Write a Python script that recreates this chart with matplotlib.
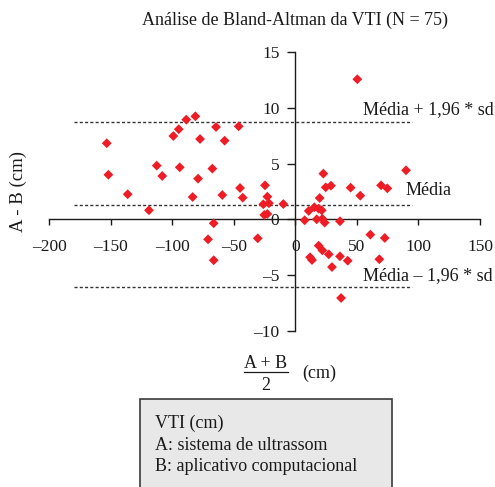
import matplotlib.pyplot as plt
from matplotlib.patches import Rectangle
from matplotlib.lines import Line2D
from matplotlib.ticker import FuncFormatter

plt.rcParams['font.family'] = ['Liberation Serif', 'DejaVu Serif']

# media (A+B)/2 e diferenca A-B, em cm
media_ab = [-153.3, -152.0, -136.3, -119.0, -112.7, -108.2, -99.2, -94.8, -94.0, -88.7,
            -83.5, -81.3, -79.1, -77.5, -67.5, -66.4, -71.0, -66.4, -64.5, -59.4,
            -57.5, -46.1, -45.0, -42.8, -30.6, -24.7, -22.8, -26.1, -21.5, -25.3,
            -22.8, -9.8,
            7.5, 10.8, 15.4, 17.3, 18.9, 19.7, 21.4, 21.9, 22.7, 23.8,
            24.6, 28.9, 36.2, 44.9, 52.7, 69.6, 74.7, 89.9, 60.9, 72.6,
            11.9, 13.5, 18.9, 21.9, 27.1, 29.7, 36.2, 42.5, 37.1, 68.2,
            67.0, 50.3]
dif_ab = [6.83, 4.00, 2.25, 0.81, 4.82, 3.89, 7.48, 8.09, 4.67, 8.95,
          2.00, 9.25, 3.65, 7.21, 4.55, -0.36, -1.80, -3.68, 8.29, 2.18,
          7.06, 8.35, 2.81, 1.94, -1.71, 3.05, 2.03, 1.35, 1.44, 0.39,
          0.48, 1.37,
          -0.09, 0.75, 1.08, 0.00, 0.95, 1.91, 0.81, 0.05, 4.10, -0.30,
          2.87, 3.02, -0.18, 2.84, 2.12, 3.05, 2.78, 4.40, -1.38, -1.68,
          -3.41, -3.66, -2.37, -2.79, -3.15, -4.29, -3.33, -3.72, -7.07, -3.59,
          -4.80, 12.58]

media_dif = 1.3
lim_sup = 8.7
lim_inf = -6.1
faixa_x = [-180, 95]

xticks = [-200, -150, -100, -50, 0, 50, 100, 150]
yticks = [-10, -5, 0, 5, 10, 15]

W, H = 495, 487
fig = plt.figure(figsize=(W / 100, H / 100), dpi=100)

def fx(px):
    return px / W

def fy(py):
    return 1 - py / H

ax = fig.add_axes([fx(49.3), fy(330.6), fx(480) - fx(49.3), fy(52.3) - fy(330.6)])
ax.set_xlim(-200, 150)
ax.set_ylim(-10, 15)

for s in ['top', 'right']:
    ax.spines[s].set_visible(False)
ax.spines['left'].set_position(('data', 0))
ax.spines['bottom'].set_position(('data', 0))
for s in ['left', 'bottom']:
    ax.spines[s].set_linewidth(1.0)
    ax.spines[s].set_color('#1a1a1a')

# sinal negativo como travessao
fmt = FuncFormatter(lambda v, p: ('\u2013%d' % abs(v)) if v < 0 else '%d' % v)
ax.set_xticks(xticks)
ax.set_yticks(yticks)
ax.xaxis.set_major_formatter(fmt)
ax.yaxis.set_major_formatter(fmt)
ax.tick_params(axis='x', direction='out', length=4.5, width=1.0, pad=10, labelsize=12.5, colors='#1a1a1a')
ax.tick_params(axis='y', direction='out', length=5.5, width=1.0, pad=6, labelsize=12.5, colors='#1a1a1a')

# linhas de media e limites de concordancia
for v in [lim_sup, media_dif, lim_inf]:
    ax.plot(faixa_x, [v, v], color='#333333', lw=1.0, ls=(0, (2.2, 1.6)), zorder=2)

ax.scatter(media_ab, dif_ab, marker='D', s=25, color='#ee1c25', edgecolors='none', zorder=3)

ax.text(55, 9.82, 'Média + 1,96 * sd', fontsize=13, va='center', ha='left', color='#1a1a1a')
ax.text(89.6, 2.63, 'Média', fontsize=13, va='center', ha='left', color='#1a1a1a')
ax.text(55, -5.09, 'Média \u2013 1,96 * sd', fontsize=13, va='center', ha='left', color='#1a1a1a',
        bbox=dict(facecolor='white', edgecolor='none', pad=0.5), zorder=4)

fig.text(fx(295.5), fy(20.7), 'Análise de Bland-Altman da VTI (N = 75)', fontsize=13,
         ha='center', va='center', color='#1a1a1a')
fig.text(fx(18), fy(191), 'A - B (cm)', fontsize=13.5, rotation=90, ha='center', va='center',
         color='#1a1a1a')

# rotulo do eixo x em forma de fracao
fig.text(fx(265.7), fy(363.3), 'A + B', fontsize=13, ha='center', va='center', color='#1a1a1a')
fig.text(fx(265.7), fy(385), '2', fontsize=13, ha='center', va='center', color='#1a1a1a')
fig.add_artist(Line2D([fx(244), fx(288)], [fy(372.3), fy(372.3)], color='#1a1a1a', lw=0.9,
                      transform=fig.transFigure))
fig.text(fx(319), fy(373.3), '(cm)', fontsize=13, ha='center', va='center', color='#1a1a1a')

# caixa de legenda
fig.add_artist(Rectangle((fx(140), fy(500)), fx(392) - fx(140), fy(399) - fy(500),
                         transform=fig.transFigure, facecolor='#e8e8e8', edgecolor='#3a3a3a',
                         lw=1.2, clip_on=False))
legenda = ['VTI (cm)', 'A: sistema de ultrassom', 'B: aplicativo computacional']
for i, linha in enumerate(legenda):
    fig.text(fx(155), fy(423.3 + i * 21.7), linha, fontsize=13, ha='left', va='center',
             color='#1a1a1a')

fig.savefig('out.png', dpi=100)
